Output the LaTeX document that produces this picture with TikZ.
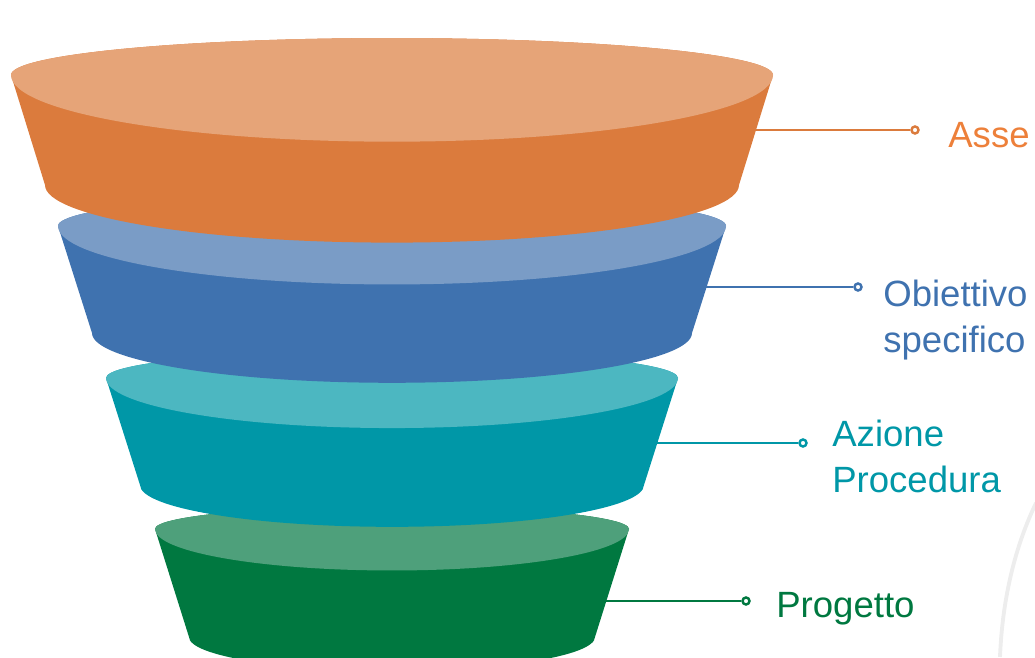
\documentclass[tikz,border=0pt]{standalone}
\usepackage{fontspec}
\setmainfont{Liberation Sans}
\usetikzlibrary{calc,positioning}
\definecolor{orgD}{RGB}{219,123,61}
\definecolor{orgL}{RGB}{230,164,120}
\definecolor{orgT}{RGB}{237,128,58}
\definecolor{bluD}{RGB}{63,114,175}
\definecolor{bluL}{RGB}{122,156,198}
\definecolor{tealD}{RGB}{0,151,167}
\definecolor{tealL}{RGB}{76,183,193}
\definecolor{grnD}{RGB}{0,120,64}
\definecolor{grnL}{RGB}{78,160,123}
\tikzset{
	lead/.style={line width=1.4pt},
	dot/.style={circle,draw,fill=white,line width=1.4pt,inner sep=0pt,minimum size=0.14cm},
	lbl/.style={inner sep=0pt,align=left,anchor=base west,font=\fontsize{20.8}{26}\selectfont},
}
\begin{document}
\begin{tikzpicture}[x=0.02cm,y=0.02cm]
	\useasboundingbox (0,0) rectangle (1035,657);
	\clip (0,0) rectangle (1035,657);
	% faint arc at the right border
	\draw[black!7,line width=2.2pt] (1036,154) .. controls (1012,104) and (1002,50) .. (1000,0);
	% funnel segments, lowest first
	\foreach \rt/\yt/\rb/\yb/\dark/\light in {237/128/203/20/grnD/grnL,286/279/252/172/tealD/tealL,334/431/300/324/bluD/bluL,381/582/347/472/orgD/orgL}{
		\pgfmathsetmacro\ryu{0.097*\rt}
		\pgfmathsetmacro\ryl{0.175*\rt}
		\pgfmathsetmacro\ryb{0.166*\rb}
		\fill[fill=\dark] ({392-\rt},\yt) -- ({392-\rb},\yb) arc[start angle=180,end angle=360,x radius=\rb,y radius=\ryb] -- ({392+\rt},\yt) arc[start angle=0,end angle=180,x radius=\rt,y radius=\ryu] -- cycle;
		\fill[fill=\light] ({392-\rt},\yt) arc[start angle=180,end angle=0,x radius=\rt,y radius=\ryu] arc[start angle=0,end angle=-180,x radius=\rt,y radius=\ryl] -- cycle;
	}
	% labels
	\coordinate (asse-edge) at (755,527);
	\node[dot,draw=orgD] (asse-dot) at (915,527) {};
	\draw[lead,orgD] (asse-edge) -- (asse-dot);
	\node[lbl,text=orgT] (asse) at ($(asse-dot)+(33,-18)$) {Asse};
	\coordinate (obj-edge) at (706,370);
	\node[dot,draw=bluD] (obj-dot) at (858,370) {};
	\draw[lead,bluD] (obj-edge) -- (obj-dot);
	\node[lbl,text=bluD] (obj) at ($(obj-dot)+(25,-65)$) {Obiettivo\\specifico};
	\coordinate (az-edge) at (656,214);
	\node[dot,draw=tealD] (az-dot) at (803,214) {};
	\draw[lead,tealD] (az-edge) -- (az-dot);
	\node[lbl,text=tealD] (az) at ($(az-dot)+(29,-49)$) {Azione\\Procedura};
	\coordinate (prog-edge) at (606,56);
	\node[dot,draw=grnD] (prog-dot) at (746,56) {};
	\draw[lead,grnD] (prog-edge) -- (prog-dot);
	\node[lbl,text=grnD] (prog) at ($(prog-dot)+(30,-16)$) {Progetto};
\end{tikzpicture}
\end{document}
